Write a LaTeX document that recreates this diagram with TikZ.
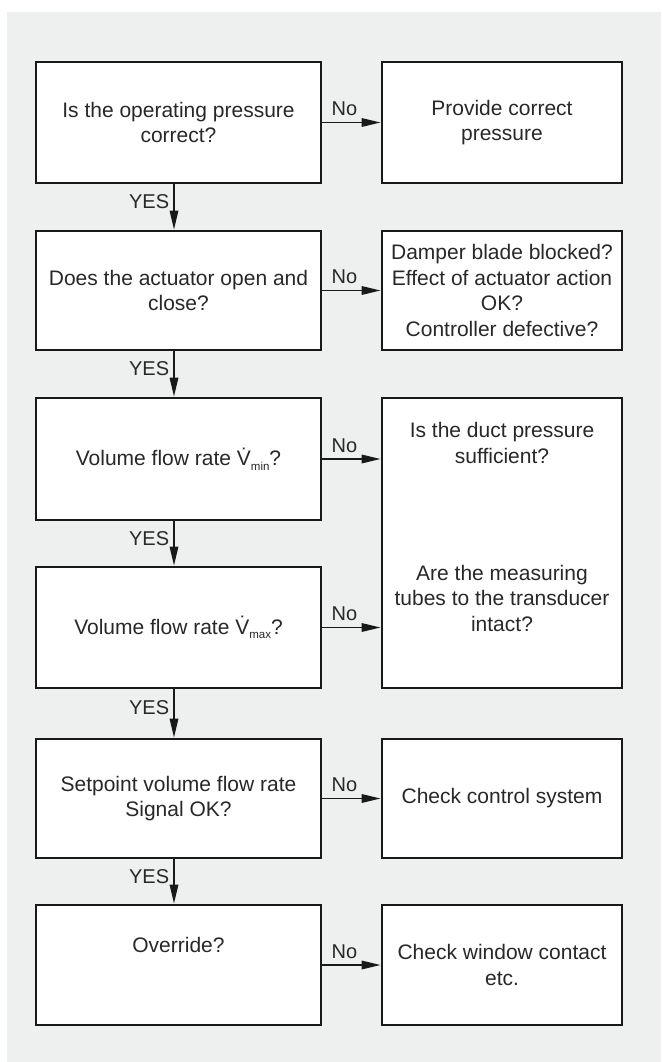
\documentclass[tikz,border=0pt]{standalone}
\usepackage{fontspec}
\setmainfont{Liberation Sans}
\usetikzlibrary{arrows.meta}
\definecolor{bg}{RGB}{238,240,240}
\definecolor{txt}{RGB}{40,40,40}
\definecolor{ln}{RGB}{25,25,25}
\newcommand\Vdot{\.{V}}
\newcommand\lowsub[1]{\raisebox{-4.5pt}{\fontsize{11.5}{11.5}\selectfont #1}}
\begin{document}
\begin{tikzpicture}[x=1pt,y=-1pt,
  box/.style={draw=ln, line width=2.8pt, fill=white, text=txt, align=center,
    font=\fontsize{21}{25.5}\selectfont, inner sep=0pt},
  lbox/.style={box, minimum width=285pt},
  rbox/.style={box, minimum width=240pt},
  plain/.style={text=txt, align=center, font=\fontsize{21}{25.5}\selectfont, inner sep=0pt},
  arr/.style={draw=ln, line width=1.7pt, -{Triangle[length=19pt,width=8.5pt]}},
  lab/.style={text=txt, font=\fontsize{20}{22}\selectfont, inner sep=0pt},
  nolab/.style={lab, anchor=base, pos=0.38, yshift=7pt},
  yeslab/.style={lab, anchor=east, pos=0.385, xshift=-4pt},
]
\fill[white] (0,0) rectangle (661,1062);
\fill[bg] (7,12) rectangle (661,1062);
\useasboundingbox (0,0) rectangle (661,1062);

\node[lbox, minimum height=121pt] (q1) at (178.5,122.5) {Is the operating pressure\\correct?};
\node[rbox, minimum height=121pt] (a1) at (502,122.5) {Provide correct\\pressure};
\node[lbox, minimum height=119pt] (q2) at (178.5,290.5) {Does the actuator open and\\close?};
\node[rbox, minimum height=119pt] (a2) at (502,290.5) {Damper blade blocked?\\Effect of actuator action\\OK?\\Controller defective?};
\node[lbox, minimum height=122pt] (q3) at (178.5,459) {Volume flow rate \Vdot\lowsub{min}?};
\node[lbox, minimum height=121pt] (q4) at (178.5,627.5) {Volume flow rate \Vdot\lowsub{max}?};
\node[rbox, minimum height=290pt] (a34) at (502,543) {};
\node[plain] (a34t1) at (502,443) {Is the duct pressure\\sufficient?};
\node[plain] (a34t2) at (502,598) {Are the measuring\\tubes to the transducer\\intact?};
\node[lbox, minimum height=119pt] (q5) at (178.5,798.5) {Setpoint volume flow rate\\Signal OK?};
\node[rbox, minimum height=119pt] (a5) at (502,798.5) {Check control system};
\node[lbox, minimum height=120pt] (q6) at (178.5,965) {};
\node[plain] (q6t) at (178.5,945) {Override?};
\node[rbox, minimum height=120pt] (a6) at (502,965) {Check window contact\\etc.};

\draw[arr] (q1) -- node[nolab]{No} (a1);
\draw[arr] (q2) -- node[nolab]{No} (a2);
\draw[arr] (q3.east) -- node[nolab]{No} (q3.east -| a34.west);
\draw[arr] (q4.east) -- node[nolab]{No} (q4.east -| a34.west);
\draw[arr] (q5) -- node[nolab]{No} (a5);
\draw[arr] (q6) -- node[nolab]{No} (a6);

\draw[arr] ([xshift=-4.5pt]q1.south) -- node[yeslab]{YES} ([xshift=-4.5pt]q2.north);
\draw[arr] ([xshift=-4.5pt]q2.south) -- node[yeslab]{YES} ([xshift=-4.5pt]q3.north);
\draw[arr] ([xshift=-4.5pt]q3.south) -- node[yeslab]{YES} ([xshift=-4.5pt]q4.north);
\draw[arr] ([xshift=-4.5pt]q4.south) -- node[yeslab]{YES} ([xshift=-4.5pt]q5.north);
\draw[arr] ([xshift=-4.5pt]q5.south) -- node[yeslab]{YES} ([xshift=-4.5pt]q6.north);
\end{tikzpicture}
\end{document}
